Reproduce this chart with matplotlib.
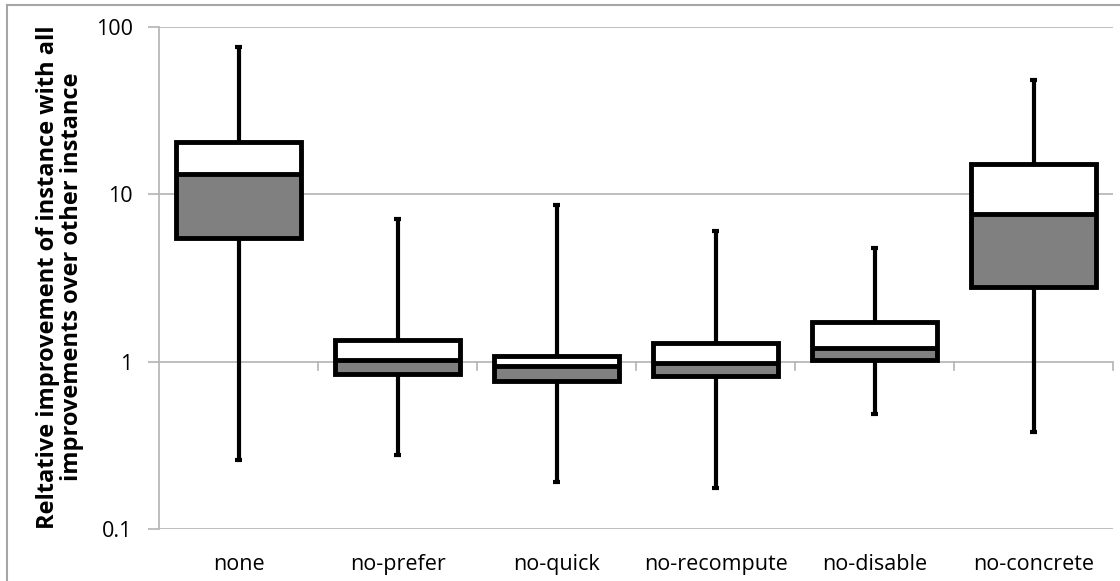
import numpy as np
import matplotlib
matplotlib.use("Agg")
import matplotlib.pyplot as plt
from matplotlib.patches import Rectangle
import matplotlib.transforms as mtransforms

categories = ["none", "no-prefer", "no-quick", "no-recompute", "no-disable", "no-concrete"]
whisker_low = [0.26, 0.276, 0.192, 0.175, 0.49, 0.378]
q1 = [5.45, 0.84, 0.77, 0.82, 1.02, 2.81]
median = [13.2, 1.02, 0.946, 0.977, 1.21, 7.6]
q3 = [20.5, 1.34, 1.076, 1.29, 1.72, 15.1]
whisker_high = [75.9, 7.15, 8.6, 6.0, 4.75, 48.4]

plt.rcParams["font.family"] = ["Open Sans", "DejaVu Sans"]


def main():
    W, H = 1120, 581
    fig = plt.figure(figsize=(W / 100, H / 100), dpi=100)
    ax = fig.add_axes([159 / W, (H - 529) / H, (1113 - 159) / W, (529 - 27) / H])

    x = np.arange(len(categories))
    bw = 0.78
    ax.set_yscale("log")
    ax.set_ylim(0.1, 100)
    ax.set_xlim(-0.5, len(categories) - 0.5)

    # gridlines
    for v in [0.1, 1, 10, 100]:
        ax.axhline(v, color="#b3b3b3", lw=1.2, zorder=0)

    # whiskers behind boxes
    ax.vlines(x, whisker_low, whisker_high, color="black", lw=3, zorder=2)
    ax.hlines(whisker_low, x - 0.025, x + 0.025, color="black", lw=3, zorder=2)
    ax.hlines(whisker_high, x - 0.025, x + 0.025, color="black", lw=3, zorder=2)

    lo = np.array(q1)
    md = np.array(median)
    hi = np.array(q3)
    # soft shadow under each box
    shadow = mtransforms.offset_copy(ax.transData, fig=fig, x=2, y=-2, units="dots")
    for i in range(len(categories)):
        ax.add_patch(Rectangle((x[i] - bw / 2, lo[i]), bw, hi[i] - lo[i], fc="#000000",
                               alpha=0.18, ec="none", transform=shadow, zorder=2.5))
    ax.bar(x, md - lo, bottom=lo, width=bw, color="#808080", zorder=3)
    ax.bar(x, hi - md, bottom=md, width=bw, color="white", zorder=3)
    for i in range(len(categories)):
        ax.add_patch(Rectangle((x[i] - bw / 2, lo[i]), bw, hi[i] - lo[i], fill=False,
                               ec="black", lw=3.5, zorder=4, joinstyle="miter"))
    ax.hlines(md, x - bw / 2, x + bw / 2, color="black", lw=3.5, zorder=4)

    # category boundary ticks hanging off the y=1 axis line
    trans = mtransforms.blended_transform_factory(ax.transData, ax.transAxes)
    for b in np.arange(0.5, len(categories) + 0.5, 1.0):
        ax.plot([b, b], [1 / 3, 1 / 3 - 0.017], color="#b3b3b3", lw=1.2, transform=trans,
                zorder=1, clip_on=False)

    for s in ["top", "right", "bottom"]:
        ax.spines[s].set_visible(False)
    ax.spines["left"].set_color("#b3b3b3")
    ax.spines["left"].set_linewidth(1.2)

    ax.set_yticks([0.1, 1, 10, 100])
    ax.set_yticklabels(["0.1", "1", "10", "100"])
    ax.yaxis.set_minor_locator(matplotlib.ticker.NullLocator())
    ax.tick_params(axis="y", length=8, width=1.2, color="#b3b3b3", pad=11, labelsize=15.5)
    ax.set_xticks(x)
    ax.set_xticklabels(categories)
    ax.tick_params(axis="x", length=0, pad=18, labelsize=15.5)

    fig.text(60 / W, (H - 277) / H,
             "Reltative improvement of instance with all\nimprovements over other instance",
             rotation=90, ha="center", va="center", multialignment="center",
             fontsize=17, fontweight="bold", linespacing=1.05)

    # outer chart frame
    fig.add_artist(plt.Line2D([7 / W, 7 / W], [0, (H - 5) / H], color="#a6a6a6", lw=1.5,
                              transform=fig.transFigure))
    fig.add_artist(plt.Line2D([7 / W, 1], [(H - 5) / H, (H - 5) / H], color="#a6a6a6", lw=1.5,
                              transform=fig.transFigure))

    fig.savefig("out.png", dpi=100)
    plt.close()


if __name__ == "__main__":
    main()
